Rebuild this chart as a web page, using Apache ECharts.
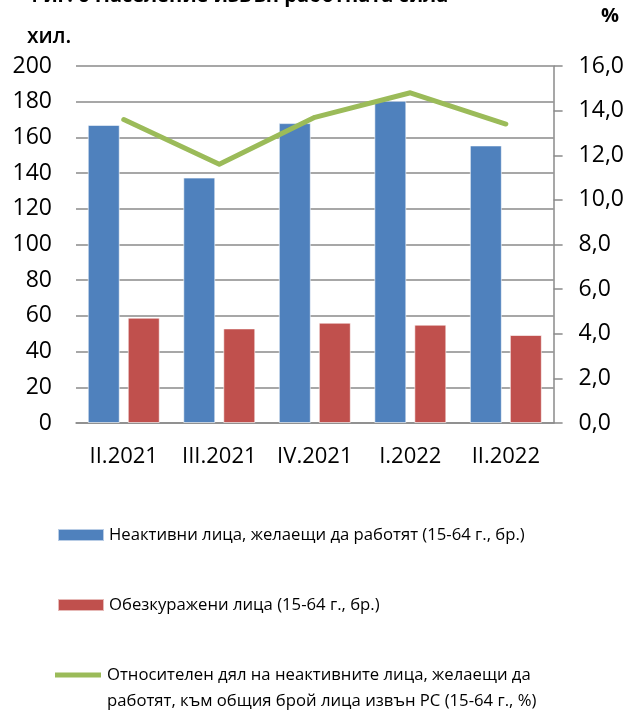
<!DOCTYPE html>
<html><head><meta charset="utf-8">
<script src="https://cdn.jsdelivr.net/npm/echarts@6/dist/echarts.min.js"></script>
<style>html,body{margin:0;padding:0;background:#fff}#c{width:627px;height:710px}</style>
</head><body><div id="c"></div>
<script>
const categories = ['II.2021', 'III.2021', 'IV.2021', 'I.2022', 'II.2022'];
const inactiveWanting = [167, 137.5, 168, 180.5, 155.5];
const discouraged = [59, 53, 56.2, 55.1, 49.3];
const sharePct = [13.6, 11.6, 13.7, 14.8, 13.4];
const leftTicks = {min: 0, max: 200, interval: 20};
const rightTicks = {min: 0, max: 16, interval: 2};
const names = [
  'Неактивни лица, желаещи да работят (15-64 г., бр.)',
  'Обезкуражени лица (15-64 г., бр.)',
  'Относителен дял на неактивните лица, желаещи да\nработят, към общия брой лица извън РС (15-64 г., %)'
];
const FONT = 'Open Sans';
const grid = '#8a8a8a';
const chart = echarts.init(document.getElementById('c'));
const legText = {fontFamily: FONT, fontSize: 16.7, color: '#000', lineHeight: 26};
chart.setOption({
  animation: false,
  title: [
    {text: 'Фиг. 6 Население извън работната сила', left: 26, top: -16, padding: 0,
     textStyle: {fontFamily: FONT, fontSize: 20, fontWeight: 'bold', color: '#000', lineHeight: 24}},
    {text: 'хил.', left: 27, top: 24, padding: 0,
     textStyle: {fontFamily: FONT, fontSize: 21, fontWeight: 600, color: '#000', lineHeight: 26}},
    {text: '%', left: 601, top: 3, padding: 0,
     textStyle: {fontFamily: FONT, fontSize: 20, fontWeight: 'bold', color: '#000', lineHeight: 26}}
  ],
  grid: {left: 76, right: 73, top: 66, bottom: 287, containLabel: false},
  legend: [
    {data: [{name: names[0], icon: 'rect'}], left: 57, top: 522, padding: 0, itemWidth: 46, itemHeight: 12, itemGap: 5, textStyle: legText, selectedMode: false},
    {data: [{name: names[1], icon: 'rect'}], left: 57, top: 592, padding: 0, itemWidth: 46, itemHeight: 12, itemGap: 5, textStyle: legText, selectedMode: false},
    {data: [{name: names[2], icon: 'path://M0,0L0,52M0,10.5L46,10.5L46,15.5L0,15.5Z', itemStyle: {color: '#9BBB59', borderWidth: 0}}],
     left: 55, top: 662, padding: 0, itemWidth: 48, itemHeight: 52, itemGap: 5, textStyle: legText, selectedMode: false}
  ],
  xAxis: {
    type: 'category', data: categories,
    axisLine: {show: true, lineStyle: {color: grid, width: 1.5}},
    axisTick: {show: false},
    axisLabel: {fontFamily: FONT, fontSize: 22, color: '#000', margin: 23, interval: 0}
  },
  yAxis: [
    {type: 'value', min: leftTicks.min, max: leftTicks.max, interval: leftTicks.interval,
     axisLine: {show: false}, axisTick: {show: false},
     splitLine: {lineStyle: {color: grid, width: 1.5}},
     axisLabel: {fontFamily: FONT, fontSize: 23, color: '#000', margin: 24}},
    {type: 'value', min: rightTicks.min, max: rightTicks.max, interval: rightTicks.interval, position: 'right',
     axisLine: {show: true, lineStyle: {color: grid, width: 1.5}},
     axisTick: {show: true, length: 9, lineStyle: {color: grid, width: 1.5}},
     splitLine: {show: false},
     axisLabel: {fontFamily: FONT, fontSize: 23, color: '#000', margin: 25,
       formatter: v => v.toFixed(1).replace('.', ',')}}
  ],
  series: [
    {name: names[0], type: 'bar', data: inactiveWanting, barWidth: 32, barGap: '25%',
     itemStyle: {color: '#4F81BD', borderColor: 'rgba(255,255,255,0.6)', borderWidth: 1}},
    {name: names[1], type: 'bar', data: discouraged, barWidth: 32, barGap: '25%',
     itemStyle: {color: '#C0504D', borderColor: 'rgba(255,255,255,0.6)', borderWidth: 1}},
    {name: names[2], type: 'line', yAxisIndex: 1, data: sharePct, symbol: 'none',
     itemStyle: {color: '#9BBB59'},
     lineStyle: {color: '#9BBB59', width: 5, cap: 'round', join: 'round'}}
  ]
});
</script></body></html>
